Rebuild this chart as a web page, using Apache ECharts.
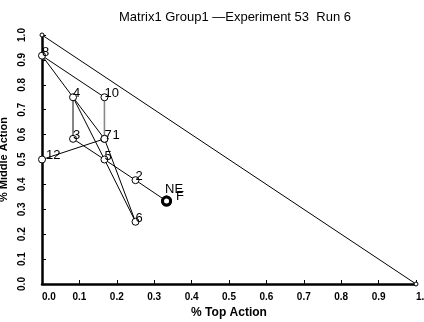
<!DOCTYPE html>
<html>
<head>
<meta charset="utf-8">
<script src="https://cdn.jsdelivr.net/npm/echarts@6/dist/echarts.min.js"></script>
<style>
  html, body { margin: 0; padding: 0; background: #fff; }
  #chart { width: 424px; height: 322px; }
</style>
</head>
<body>
<div id="chart"></div>
<script>
// trial positions: % top action (x), % middle action (y)
const pointLabel = ['1', '2', '3', '4', '5', '6', '7', '8', '10', '12'];
const pointTop = [0.167, 0.25, 0.083, 0.083, 0.167, 0.25, 0.167, 0, 0.167, 0];
const pointMid = [0.583, 0.417, 0.583, 0.75, 0.5, 0.25, 0.583, 0.917, 0.75, 0.5];

// equilibrium point
const eqLabel = ['NE', 'F'];
const eqTop = [0.333, 0.333];
const eqMid = [0.333, 0.333];

// order in which the trajectory visits the points
const moveOrder = ['12', '7', '10', '8', '4', '7', '6', '5', '4', '3', '5', '2', 'NE'];
const greyMoves = [['4', '3'], ['10', '7']];

// simplex boundary
const edgeTop = [0, 1];
const edgeMid = [1, 0];

const ticks = [0, 0.1, 0.2, 0.3, 0.4, 0.5, 0.6, 0.7, 0.8, 0.9, 1.0];

const pos = {};
pointLabel.forEach((l, i) => { pos[l] = [pointTop[i], pointMid[i]]; });
eqLabel.forEach((l, i) => { pos[l] = [eqTop[i], eqMid[i]]; });

// label offsets (relative to symbol box)
const labelOffset = { '1': [12, -6], '12': [8, -7], NE: [4, -13], F: [15, -6] };

const chart = echarts.init(document.getElementById('chart'));

const axisCommon = {
  type: 'value',
  min: ticks[0],
  max: ticks[ticks.length - 1],
  interval: 0.1,
  splitLine: { show: false },
  axisLine: { show: true, onZero: false, lineStyle: { color: '#000', width: 2.5 } },
  axisTick: { show: true, inside: true, length: 4, lineStyle: { color: '#000', width: 1 } },
  nameLocation: 'middle',
  nameTextStyle: { fontFamily: 'Liberation Sans', fontSize: 12, fontWeight: 'bold', color: '#000' }
};

const series = [];

series.push({
  type: 'line',
  data: edgeTop.map((x, i) => [x, edgeMid[i]]),
  symbol: 'circle',
  symbolSize: 4,
  itemStyle: { color: '#fff', borderColor: '#000', borderWidth: 1 },
  lineStyle: { color: '#000', width: 1 },
  silent: true
});

series.push({
  type: 'line',
  data: moveOrder.map(l => pos[l]),
  symbol: 'none',
  lineStyle: { color: '#000', width: 1 },
  silent: true
});

greyMoves.forEach(m => {
  series.push({
    type: 'line',
    data: m.map(l => pos[l]),
    symbol: 'none',
    lineStyle: { color: '#888', width: 1.5 },
    silent: true
  });
});

series.push({
  type: 'scatter',
  symbol: 'circle',
  symbolSize: 7,
  itemStyle: { color: '#fff', borderColor: '#000', borderWidth: 1, opacity: 1 },
  data: pointLabel.map(l => ({
    name: l,
    value: pos[l],
    label: { position: labelOffset[l] || [4, -6] }
  })),
  label: {
    show: true,
    formatter: p => p.name,
    fontFamily: 'Liberation Sans',
    fontSize: 13,
    color: '#000'
  },
  z: 5
});

series.push({
  type: 'scatter',
  symbol: 'circle',
  symbolSize: 8,
  itemStyle: { color: '#fff', borderColor: '#000', borderWidth: 3, opacity: 1 },
  data: eqLabel.map(l => ({
    name: l,
    value: pos[l],
    label: { position: labelOffset[l] }
  })),
  label: {
    show: true,
    formatter: p => p.name,
    fontFamily: 'Liberation Sans',
    fontSize: 13,
    color: '#000'
  },
  z: 6
});

chart.setOption({
  animation: false,
  backgroundColor: '#fff',
  title: {
    text: 'Matrix1 Group1 \u2014Experiment 53  Run 6',
    left: 230,
    textAlign: 'center',
    top: 6,
    textStyle: { fontFamily: 'Liberation Sans', fontSize: 13, fontWeight: 'normal', color: '#000' }
  },
  grid: { left: 42, right: 8, top: 35, bottom: 38, containLabel: false, outerBoundsMode: 'none' },
  xAxis: Object.assign({}, axisCommon, {
    name: '% Top Action',
    nameGap: 22,
    axisLabel: {
      fontFamily: 'Liberation Sans', fontSize: 10, fontWeight: 'bold', color: '#000',
      margin: 8, formatter: v => v.toFixed(1), alignMinLabel: 'left', alignMaxLabel: 'left'
    }
  }),
  yAxis: Object.assign({}, axisCommon, {
    name: '% Middle Action',
    nameGap: 30,
    nameTextStyle: { fontFamily: 'Liberation Sans', fontSize: 11, fontWeight: 'bold', color: '#000' },
    axisLabel: {
      fontFamily: 'Liberation Sans', fontSize: 10, fontWeight: 'bold', color: '#000',
      margin: 15, rotate: 90, formatter: v => v.toFixed(1)
    }
  }),
  series: series
});
</script>
</body>
</html>
